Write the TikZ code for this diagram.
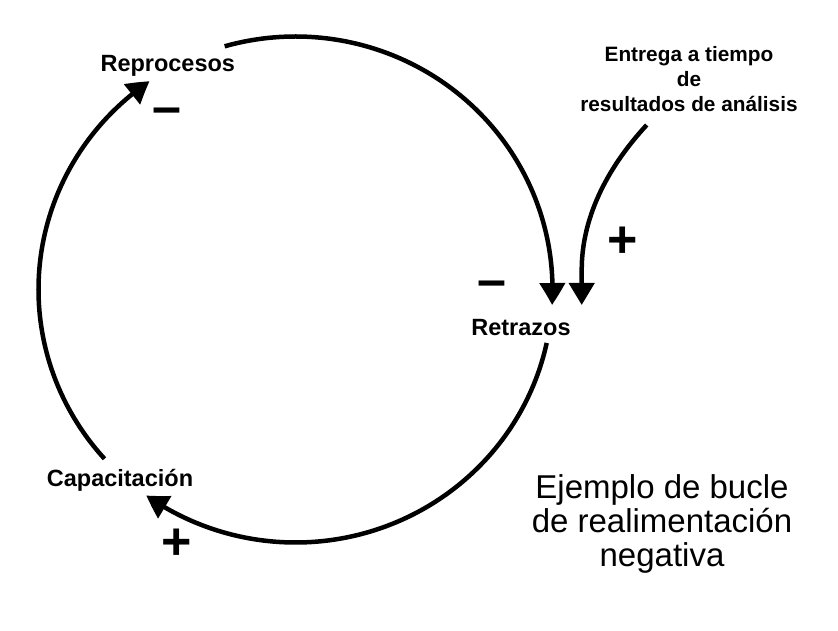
\documentclass[tikz,border=0pt]{standalone}
\usepackage{fontspec}
\setmainfont{Liberation Sans}
\usetikzlibrary{arrows.meta,bending}

\begin{document}
\begin{tikzpicture}[x=1pt, y=1pt,
  ar/.style={line width=4.5pt, -{Triangle[length=22pt, width=25pt, bend]}},
  lbl/.style={font=\fontsize{23.5}{26}\selectfont\bfseries, anchor=base, inner sep=0pt},
  sgn/.style={font=\fontsize{52}{52}\selectfont\bfseries, inner sep=0pt}]
  \useasboundingbox (0,0) rectangle (838,630);
  % loop: centre and radii of the (slightly flat) circle
  \coordinate (o) at (295.5,340.5);
  % variables
  \node[lbl] (rep) at (167.8,558.3) {Reprocesos};
  \node[lbl] (ret) at (521,294) {Retrazos};
  \node[lbl] (cap) at (120,143.3) {Capacitación};
  \node[lbl, align=center, font=\fontsize{20.8}{25}\selectfont\bfseries]
    (ent) at (689,518.3) {Entrega a tiempo\\de\\resultados de análisis};
  % loop arcs, clockwise
  \draw[ar] (o) ++(106:257 and 253)
    arc[start angle=106, end angle=-3.5, x radius=257, y radius=253];
  \draw[ar] (o) ++(-12.2:257 and 253)
    arc[start angle=-12.2, end angle=-125.5, x radius=257, y radius=253];
  \draw[ar] (o) ++(222:257 and 253)
    arc[start angle=222, end angle=124.6, x radius=257, y radius=253];
  % outside influence on the delays
  \coordinate (ent-out) at (646.7,505);
  \coordinate (ret-in) at (581.7,325);
  \draw[ar] (ent-out) .. controls (605,460) and (581.7,410) .. (581.7,360) -- (ret-in);
  % polarities
  \node[sgn] (s-rep) at (166.7,513.7) {–};
  \node[sgn] (s-ret) at (491.7,340.3) {–};
  \node[sgn] (s-ent) at (622.5,387.5) {+};
  \node[sgn] (s-cap) at (176.3,86) {+};
  % caption
  \node[anchor=base, align=center, inner sep=0pt, font=\fontsize{33}{34}\selectfont]
    (nota) at (662,64) {Ejemplo de bucle\\de realimentación\\negativa};
\end{tikzpicture}
\end{document}
